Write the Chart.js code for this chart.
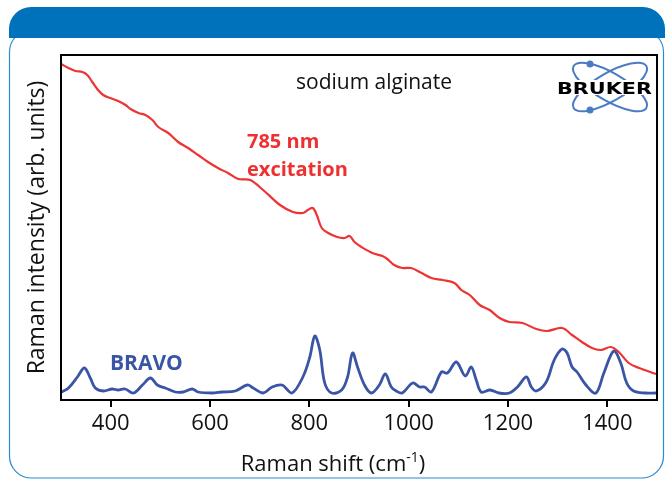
<!DOCTYPE html>
<html>
<head>
<meta charset="utf-8">
<script src="https://cdn.jsdelivr.net/npm/chart.js@4"></script>
<style>
  html, body { margin: 0; padding: 0; background: #fff; }
  #wrap { width: 665px; height: 482px; }
</style>
</head>
<body>
<div id="wrap"><canvas id="chart" width="665" height="482"></canvas></div>
<script>
// Datos (desplazamiento Raman en cm-1, intensidad arbitraria)
const xTicks = [400, 600, 800, 1000, 1200, 1400];

const redShift = [300, 315, 329, 343, 353, 363, 373, 385, 399, 415, 430, 440, 456, 470, 484, 496, 516, 536, 556, 576, 596, 616, 636, 657, 681, 707, 741, 767, 787, 797, 807, 815, 825, 838, 856, 871, 881, 891, 905, 927, 947, 957, 971, 987, 1005, 1026, 1046, 1068, 1092, 1106, 1123, 1143, 1163, 1183, 1203, 1229, 1257, 1279, 1309, 1329, 1349, 1369, 1387, 1407, 1423, 1443, 1464, 1498];
const redIntensity = [336, 332, 329, 328, 325, 318, 311, 305, 302, 299, 295, 291, 287, 285, 280, 273, 267, 258, 252, 245, 238, 232, 227, 221, 220, 210, 195, 188, 187, 190, 192, 185, 172, 167, 163, 162, 164, 158, 153, 147, 144, 141, 135, 132, 132, 127, 122, 120, 117, 110, 105, 95, 90, 82, 78, 77, 71, 69, 72, 65, 58, 52, 50, 53, 48, 37, 32, 26];

const blueShift = [301, 315, 333, 347, 359, 369, 385, 403, 415, 429, 446, 464, 480, 494, 510, 530, 546, 564, 576, 604, 624, 651, 675, 687, 707, 725, 745, 765, 787, 801, 811, 821, 831, 845, 865, 877, 887, 897, 911, 925, 941, 953, 965, 975, 987, 1008, 1022, 1032, 1046, 1066, 1078, 1096, 1114, 1126, 1136, 1146, 1164, 1182, 1203, 1219, 1237, 1247, 1257, 1277, 1293, 1309, 1319, 1329, 1339, 1357, 1377, 1393, 1413, 1427, 1439, 1453, 1476, 1498];
const blueIntensity = [8, 12, 23, 32, 22, 12, 9, 11, 10, 11, 7, 15, 22, 15, 12, 8, 8, 11, 8, 7, 8, 9, 15, 12, 7, 13, 15, 7, 23, 43, 64, 50, 17, 7, 10, 23, 47, 33, 15, 7, 15, 26, 13, 9, 7, 17, 13, 13, 8, 28, 27, 38, 24, 33, 20, 8, 10, 7, 7, 13, 23, 13, 9, 18, 40, 51, 47, 33, 28, 15, 7, 27, 49, 37, 17, 9, 7, 7];

const FONT = "'Open Sans', 'Noto Sans', sans-serif";

function toPoints(xs, ys) {
  return xs.map((x, i) => ({ x, y: ys[i] }));
}

// Fondo: cabecera azul y recuadro
const panelPlugin = {
  id: 'panel',
  beforeDraw(chart) {
    const ctx = chart.ctx;
    ctx.save();
    ctx.fillStyle = '#fff';
    ctx.fillRect(0, 0, chart.width, chart.height);

    // recuadro con borde celeste
    ctx.strokeStyle = '#2a8ad2';
    ctx.lineWidth = 1.2;
    ctx.beginPath();
    ctx.roundRect(9.5, 30, 654, 448, 22);
    ctx.stroke();

    // cabecera
    ctx.fillStyle = '#0071bb';
    ctx.beginPath();
    ctx.roundRect(9, 7, 656, 31, [22, 22, 0, 0]);
    ctx.fill();
    ctx.restore();
  },
  afterDraw(chart) {
    const ctx = chart.ctx, a = chart.chartArea;
    ctx.save();

    // marco del área de datos
    ctx.strokeStyle = '#000';
    ctx.lineWidth = 2;
    ctx.strokeRect(a.left, a.top, a.right - a.left, a.bottom - a.top);

    // textos
    ctx.textBaseline = 'alphabetic';
    ctx.textAlign = 'left';
    ctx.fillStyle = '#111';
    ctx.font = `21px ${FONT}`;
    ctx.fillText('sodium alginate', 296, 89);

    ctx.fillStyle = '#ee3030';
    ctx.font = `bold 20px ${FONT}`;
    ctx.fillText('785 nm', 247, 148);
    ctx.fillText('excitation', 247, 176);

    ctx.fillStyle = '#3a55a5';
    ctx.font = `bold 21px ${FONT}`;
    ctx.fillText('BRAVO', 110, 370);

    // título eje x con superíndice
    ctx.fillStyle = '#111';
    ctx.font = `22px ${FONT}`;
    const t1 = 'Raman shift (cm', sup = '-1', t2 = ')';
    const w1 = ctx.measureText(t1).width;
    ctx.font = `14px ${FONT}`;
    const ws = ctx.measureText(sup).width;
    ctx.font = `22px ${FONT}`;
    const w2 = ctx.measureText(t2).width;
    let x = 333 - (w1 + ws + w2) / 2;
    const y = 471;
    ctx.fillText(t1, x, y);
    x += w1;
    ctx.font = `14px ${FONT}`;
    ctx.fillText(sup, x, y - 9);
    x += ws;
    ctx.font = `22px ${FONT}`;
    ctx.fillText(t2, x, y);

    // logo
    const cx = 610, cy = 87;
    ctx.strokeStyle = '#4a7cc2';
    ctx.lineWidth = 2;
    [Math.PI / 6, -Math.PI / 6].forEach(r => {
      ctx.beginPath();
      ctx.ellipse(cx, cy, 42, 14, r, 0, Math.PI * 2);
      ctx.stroke();
    });
    ctx.fillStyle = '#4a7cc2';
    [[590, 64], [590, 110]].forEach(([px, py]) => {
      ctx.beginPath();
      ctx.arc(px, py, 3.5, 0, Math.PI * 2);
      ctx.fill();
    });
    ctx.fillStyle = '#fff';
    ctx.fillRect(557, 80, 96, 15);
    ctx.fillStyle = '#000';
    ctx.font = "bold 16px 'DejaVu Sans', sans-serif";
    const wl = ctx.measureText('BRUKER').width;
    ctx.translate(557, 94);
    ctx.scale(95 / wl, 1);
    ctx.fillText('BRUKER', 0, 0);
    ctx.restore();
  }
};

new Chart(document.getElementById('chart'), {
  type: 'line',
  data: {
    datasets: [{
      label: '785 nm excitation',
      data: toPoints(redShift, redIntensity),
      borderColor: '#ee3333',
      borderWidth: 2.2,
      pointRadius: 0,
      tension: 0.35
    }, {
      label: 'BRAVO',
      data: toPoints(blueShift, blueIntensity),
      borderColor: '#3a55a5',
      borderWidth: 2.8,
      pointRadius: 0,
      tension: 0.35
    }]
  },
  options: {
    responsive: false,
    animation: false,
    events: [],
    layout: { padding: { left: 20, right: 8, top: 55, bottom: 0 } },
    plugins: {
      legend: { display: false },
      tooltip: { enabled: false }
    },
    scales: {
      x: {
        type: 'linear',
        min: 300,
        max: 1500,
        afterBuildTicks: s => { s.ticks = xTicks.map(v => ({ value: v })); },
        afterFit: s => { s.height = 82; },
        border: { display: true, color: '#000', width: 2 },
        grid: { drawOnChartArea: false, drawTicks: true, tickLength: 7, color: '#000', lineWidth: 2 },
        ticks: {
          color: '#111',
          padding: 4,
          font: { family: FONT, size: 22 },
          callback: v => String(v)
        }
      },
      y: {
        min: 0,
        max: 345,
        afterFit: s => { s.width = 41; },
        border: { display: true, color: '#000', width: 2 },
        grid: { display: false },
        ticks: { display: false },
        title: {
          display: true,
          text: 'Raman intensity (arb. units)',
          color: '#111',
          font: { family: FONT, size: 23 }
        }
      }
    }
  },
  plugins: [panelPlugin]
});
</script>
</body>
</html>
